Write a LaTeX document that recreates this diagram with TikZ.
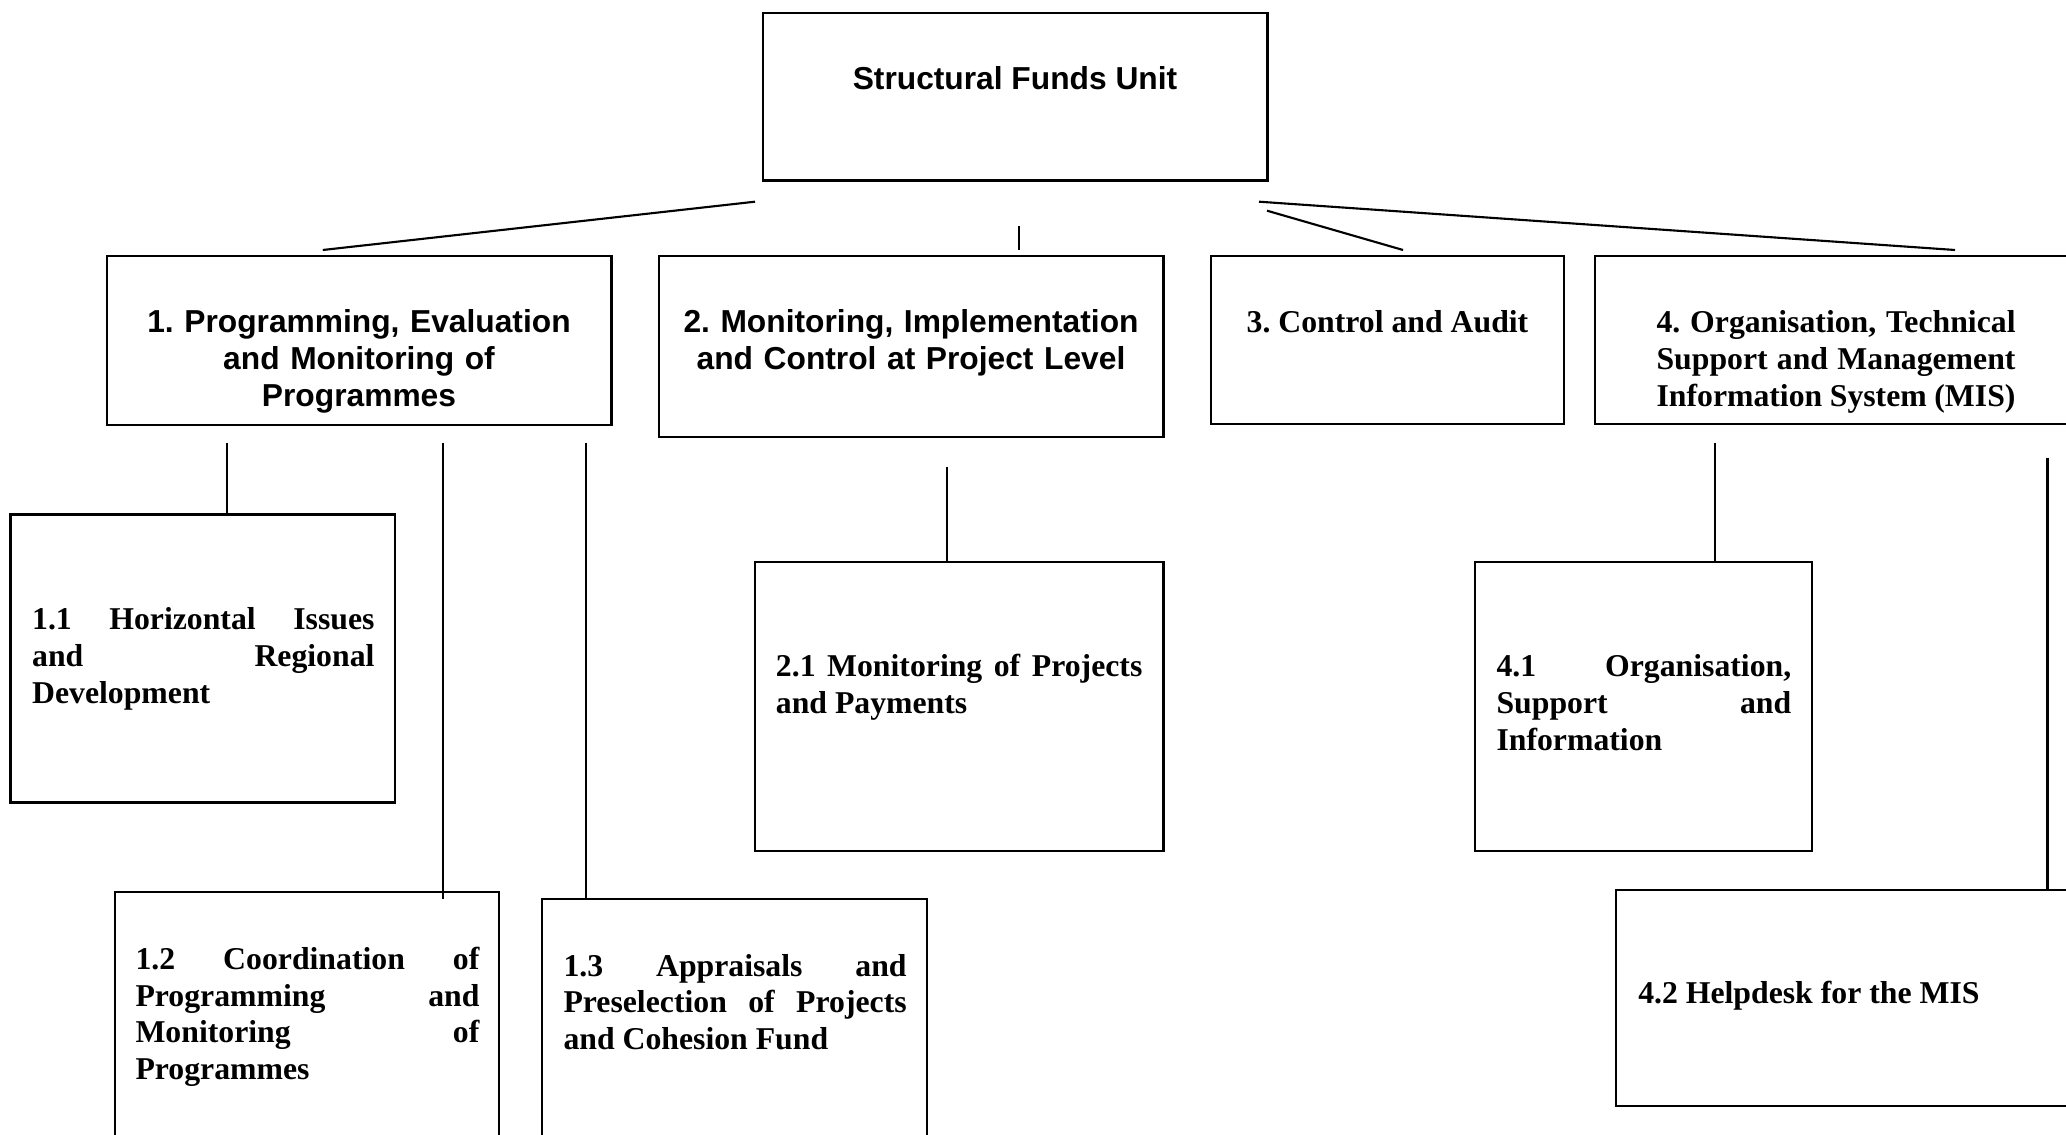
\documentclass[tikz,border=0pt]{standalone}
\usepackage{fontspec}
\setmainfont{Liberation Serif}
\newfontfamily\arialf{Liberation Sans}
\usetikzlibrary{fit}
\frenchspacing
\tikzset{
  box/.style={draw, line width=0.9pt, inner sep=0pt, rectangle},
  conn/.style={line width=0.8pt},
  sertxt/.style={font=\fontsize{12pt}{13.8pt}\selectfont\bfseries\frenchspacing, inner sep=0pt, anchor=base west, align=justify},
  sanstxt/.style={font=\arialf\fontsize{12pt}{13.8pt}\selectfont\bfseries\frenchspacing, inner sep=0pt, anchor=base, align=center}
}
\begin{document}
\begin{tikzpicture}[x=0.378pt, y=-0.378pt]
\useasboundingbox (0,0) rectangle (2066,1135);
\fill[white] (0,0) rectangle (2066,1135);
\clip (0,0) rectangle (2066,1135);
% boxes
\node[box, fit={(763,13) (1267.5,180.5)}] (top) {};
\node[box, fit={(106.7,256) (611.3,425)}] (b1) {};
\node[box, fit={(658.8,256) (1163.4,437.3)}] (b2) {};
\node[box, fit={(1210.9,256) (1564,424.3)}] (b3) {};
\node[box, fit={(1595,256) (2100,424)}] (b4) {};
\node[box, fit={(10.5,514.5) (395,802.6)}] (b11) {};
\node[box, fit={(115.3,892) (499.3,1170)}] (b12) {};
\node[box, fit={(542.2,898.8) (926.9,1170)}] (b13) {};
\node[box, fit={(755,562.3) (1163.4,851.3)}] (b21) {};
\node[box, fit={(1475,562.3) (1811.7,851.3)}] (b41) {};
\node[box, fit={(1616,890) (2100,1106)}] (b42) {};
% texts
\node[sanstxt] (ttop) at (1015,90) {Structural Funds Unit};
\node[sanstxt, text width=190.5pt] (t1) at (359,333) {1. Programming, Evaluation\\and Monitoring of\\Programmes};
\node[sanstxt, text width=190.5pt] (t2) at (911,333) {2. Monitoring, Implementation\\and Control at Project Level};
\node[sertxt, anchor=base] (t3) at (1387.5,333) {3. Control and Audit};
\node[sertxt, text width=135.7pt] (t4) at (1656,333) {4. Organisation, Technical\linebreak Support and Management\linebreak Information System (MIS)};
\node[sertxt, text width=129.4pt] (t11) at (31.6,630) {1.1 Horizontal Issues\linebreak and Regional\linebreak Development};
\node[sertxt, text width=130pt] (t12) at (135,969.5) {1.2 Coordination of\linebreak Programming and\linebreak Monitoring of\linebreak Programmes};
\node[sertxt, text width=129.7pt] (t13) at (563,976.3) {1.3 Appraisals and\linebreak Preselection of Projects\linebreak and Cohesion Fund};
\node[sertxt, text width=138.5pt] (t21) at (775.4,677) {2.1 Monitoring of Projects\linebreak and Payments};
\node[sertxt, text width=111.4pt] (t41) at (1496,677) {4.1 Organisation,\linebreak Support and\linebreak Information};
\node[sertxt] (t42) at (1637.7,1003) {4.2 Helpdesk for the MIS};
% connector ends
\coordinate (a1) at (755,201.7);  \coordinate (e1) at (322.8,250);
\coordinate (a2) at (1019,226);   \coordinate (e2) at (1019,250);
\coordinate (a3) at (1267,210.7); \coordinate (e3) at (1403,250);
\coordinate (a4) at (1259,201.7); \coordinate (e4) at (1955,250);
\coordinate (a11) at (226.6,442.7); \coordinate (e11) at (226.6,514.5);
\coordinate (a12) at (442.7,442.7); \coordinate (e12) at (442.7,898.8);
\coordinate (a13) at (586.3,442.7); \coordinate (e13) at (586.3,898.8);
\coordinate (a21) at (946.6,466.6); \coordinate (e21) at (946.6,562.3);
\coordinate (a41) at (1714.8,442.7); \coordinate (e41) at (1714.8,562.3);
\coordinate (a42) at (2047.5,457.7); \coordinate (e42) at (2047.5,890);
\draw[conn] (a1) -- (e1);
\draw[conn] (a2) -- (e2);
\draw[conn] (a3) -- (e3);
\draw[conn] (a4) -- (e4);
\draw[conn] (a11) -- (e11);
\draw[conn] (a12) -- (e12);
\draw[conn] (a13) -- (e13);
\draw[conn] (a21) -- (e21);
\draw[conn] (a41) -- (e41);
\draw[conn] (a42) -- (e42);
\end{tikzpicture}
\end{document}
